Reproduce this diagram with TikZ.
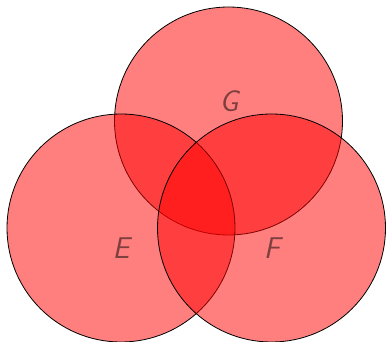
\documentclass[tikz,border=0pt]{standalone}
\begin{document}
\begin{tikzpicture}[x=1pt,y=1pt,
  venn/.style={circle,minimum size=228pt,inner sep=0pt,fill=red,fill opacity=0.5,draw=black,draw opacity=1,line width=0.8pt},
  vlabel/.style={font=\fontsize{30}{36}\selectfont\sffamily\itshape,text=black,text opacity=0.5,inner sep=0pt}]
\useasboundingbox (0,0) rectangle (386,342);
\node[venn] (cG) at (228.5,221) {};
\node[venn] (cE) at (121,114) {};
\node[venn] (cF) at (271.5,114) {};
\node[vlabel] (lG) at (229,241) {G};
\node[vlabel] (lE) at (121,94) {E};
\node[vlabel] (lF) at (272,94) {F};
\end{tikzpicture}
\end{document}
